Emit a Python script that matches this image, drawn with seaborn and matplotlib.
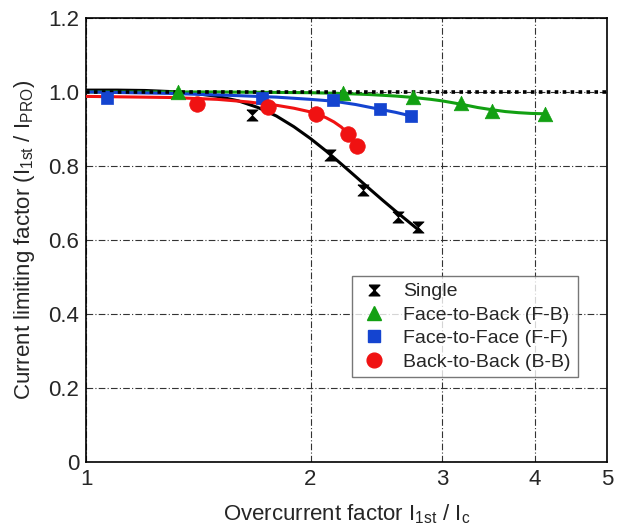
import numpy as np
import pandas as pd
import matplotlib
matplotlib.use("Agg")
import matplotlib.pyplot as plt
import matplotlib.ticker as mticker
from matplotlib.lines import Line2D
import seaborn as sns

# measured points (markers)
single_x = [1.67, 2.125, 2.35, 2.62, 2.79]
single_y = [0.938, 0.830, 0.735, 0.662, 0.635]
fb_x = [1.33, 2.21, 2.745, 3.18, 3.50, 4.12]
fb_y = [1.000, 0.997, 0.986, 0.970, 0.949, 0.941]
ff_x = [1.067, 1.723, 2.145, 2.48, 2.73]
ff_y = [0.984, 0.984, 0.978, 0.954, 0.935]
bb_x = [1.41, 1.754, 2.036, 2.245, 2.31]
bb_y = [0.968, 0.959, 0.941, 0.886, 0.854]

# fitted curves
single_cx = [1.0, 1.1, 1.2, 1.3, 1.4, 1.5, 1.6, 1.7, 1.8, 1.9, 2.0,
             2.1, 2.2, 2.3, 2.4, 2.5, 2.6, 2.7, 2.8]
single_cy = [1.005, 1.005, 1.004, 1.001, 0.996, 0.988, 0.976, 0.958, 0.935, 0.906, 0.874,
             0.840, 0.805, 0.771, 0.738, 0.707, 0.678, 0.651, 0.625]
fb_cx = [1.0, 1.5, 2.0, 2.2, 2.4, 2.6, 2.75, 2.9, 3.0, 3.1, 3.2, 3.35, 3.5, 3.65, 3.8, 3.95, 4.12]
fb_cy = [1.000, 1.000, 0.998, 0.996, 0.993, 0.989, 0.985, 0.980, 0.976, 0.971, 0.966,
         0.958, 0.952, 0.947, 0.944, 0.942, 0.941]
ff_cx = [1.0, 1.3, 1.6, 1.8, 2.0, 2.15, 2.3, 2.45, 2.6, 2.73]
ff_cy = [1.000, 0.996, 0.990, 0.986, 0.980, 0.975, 0.966, 0.955, 0.945, 0.935]
bb_cx = [1.0, 1.3, 1.5, 1.65, 1.8, 1.9, 2.0, 2.05, 2.1, 2.15, 2.2, 2.245]
bb_cy = [0.988, 0.985, 0.980, 0.973, 0.964, 0.956, 0.946, 0.939, 0.930, 0.919, 0.905, 0.887]

labels = ["Single", "Face-to-Back (F-B)", "Face-to-Face (F-F)", "Back-to-Back (B-B)"]
colors = ["black", "#12a012", "#1444d0", "#f01212"]
hourglass = [(-1, 1), (1, 1), (-1, -1), (1, -1), (-1, 1)]
markers = [hourglass, "^", "s", "o"]
sizes = [65, 110, 85, 125]

sns.set_style("white")
plt.rcParams["font.family"] = ["Liberation Sans", "DejaVu Sans"]
plt.rcParams["mathtext.default"] = "regular"

fig = plt.figure(figsize=(6.19, 5.29), dpi=100)
ax = fig.add_axes([0.139, 0.127, 0.842, 0.839])

curves = [(single_cx, single_cy), (fb_cx, fb_cy), (ff_cx, ff_cy), (bb_cx, bb_cy)]
points = [(single_x, single_y), (fb_x, fb_y), (ff_x, ff_y), (bb_x, bb_y)]

ax.axhline(1.0, ls=(0, (1, 1.2)), lw=2.6, color="black", zorder=4)

for (cx, cy), c in zip(curves, colors):
    sns.lineplot(x=cx, y=cy, color=c, lw=2.2, ax=ax, zorder=3, sort=False)

handles = []
for (px, py), c, m, s, lab in zip(points, colors, markers, sizes, labels):
    sns.scatterplot(x=px, y=py, color=c, marker=m, s=s, edgecolor=c,
                    linewidth=0.5, ax=ax, zorder=5)
    handles.append(Line2D([], [], ls="none", marker=m, color=c,
                          markersize=np.sqrt(s) * 0.95, label=lab))

ax.set_xscale("log")
ax.set_xlim(1, 5)
ax.set_ylim(0, 1.2)
ax.xaxis.set_major_locator(mticker.FixedLocator([1, 2, 3, 4, 5]))
ax.xaxis.set_major_formatter(mticker.FixedFormatter(["1", "2", "3", "4", "5"]))
ax.xaxis.set_minor_locator(mticker.NullLocator())
ax.set_yticks([0, 0.2, 0.4, 0.6, 0.8, 1.0, 1.2])
ax.set_yticklabels(["0", "0.2", "0.4", "0.6", "0.8", "1.0", "1.2"])
ax.tick_params(length=0, labelsize=16, pad=5)

ax.grid(True, color="#333333", lw=0.8, ls=(0, (6, 2, 1, 2)))
for sp in ax.spines.values():
    sp.set_color("black")
    sp.set_linewidth(1.2)

ax.set_xlabel("Overcurrent factor I$_{1st}$ / I$_c$", fontsize=16, labelpad=9)
ax.set_ylabel("Current limiting factor (I$_{1st}$ / I$_{PRO}$)", fontsize=16, labelpad=8)

leg = ax.legend(handles=handles, loc="lower left", bbox_to_anchor=(0.51, 0.19),
                borderaxespad=0, fontsize=14, frameon=True, fancybox=False,
                handletextpad=0.7, borderpad=0.35, labelspacing=0.3, handlelength=1.6)
leg.get_frame().set_edgecolor("#555555")
leg.get_frame().set_linewidth(1.0)

fig.savefig("out.png", dpi=100)
